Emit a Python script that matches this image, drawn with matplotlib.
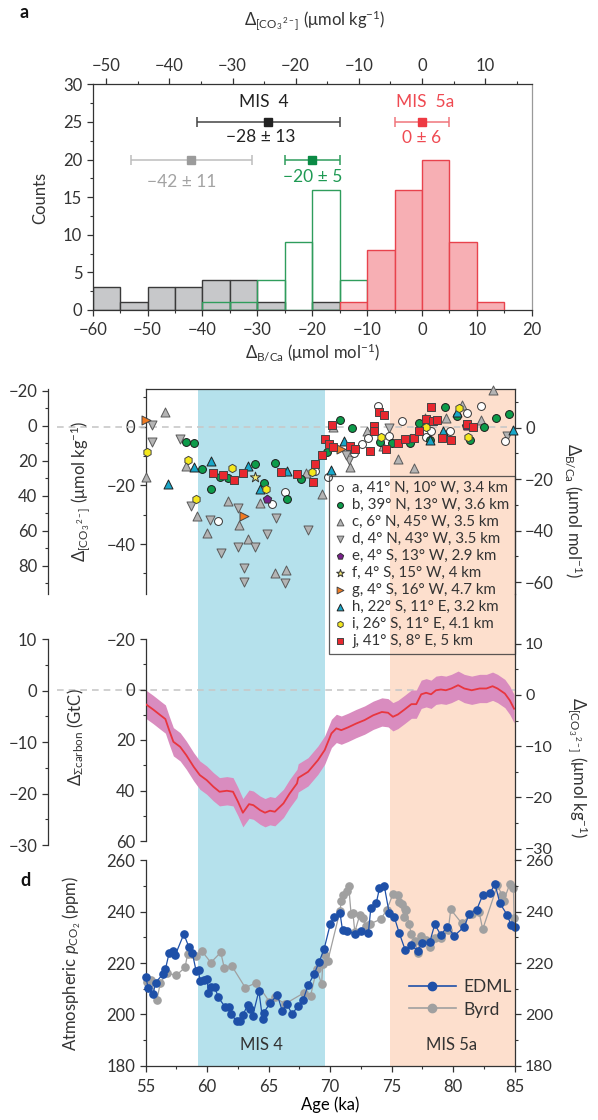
import matplotlib
matplotlib.use("Agg")
import matplotlib.pyplot as plt
from matplotlib.lines import Line2D
from matplotlib.ticker import MultipleLocator, FixedLocator

W, H = 598, 1120

# ---------------- panel a : histograms ----------------
bin_left = [-60, -55, -50, -45, -40, -35, -30, -25, -20, -15, -10, -5, 0, 5, 10]
gray_counts = [3, 1, 3, 3, 4, 4, 1, 0, 1, 0, 0, 0, 0, 0, 0]
green_counts = [0, 0, 0, 0, 1, 1, 4, 9, 16, 4, 0, 0, 0, 0, 0]
red_counts = [0, 0, 0, 0, 0, 0, 0, 0, 0, 1, 8, 16, 20, 9, 1]
co3_per_bca = 0.869  # top axis scale factor

mis_center = [-28, -42, -20, 0]
mis_count = [25, 20, 20, 25]
mis_halfwidth = [13, 11, 5, 5]
mis_labels = ["\u221228 \u00b1 13", "\u221242 \u00b1 11", "\u221220 \u00b1 5", "0 \u00b1 6"]

# ---------------- panel b : B/Ca records (age ka, delta B/Ca) ----------------
a_age = [60.9, 65.3, 66.3, 68.8, 69.8, 71.9, 72.6, 73.1, 73.9, 74.8, 75.8, 77.7, 77.8, 78.2, 79.7, 81.15, 82.3, 84.2]
a_val = [-36.2, -29.8, -24.9, -16.7, -19.3, -10, -6.3, -4.1, 8.4, -3.2, 2.7, -1.5, -3.5, -1.2, -1.5, 5.8, 8.5, -5.2]
b_age = [58.3, 58.9, 59.6, 60.3, 61.0, 61.7, 63.9, 64.6, 65.5, 66.5, 67.6, 69.7, 70.8, 71.8, 74.05, 75.0, 76.5,
         77.2, 78.1, 79.3, 80.3, 81.4, 82.5, 83.5, 84.5]
b_val = [-5.5, -6.1, -16, -23.8, -19.3, -19.7, -14.2, -21.6, -13.9, -27.8, -20.1, -9.3, 3.0, 0, -5.4, -5.8, -5.8,
         1.7, -4.8, 7.9, 4.5, -4.8, 0.1, 3.6, 5.2]
c_age = [55.0, 56.6, 58.3, 59.2, 59.96, 61.7, 62.6, 63.3, 64.3, 65.5, 66.4, 68.0, 69.3, 70.25, 71.6, 72.97, 74.3,
         75.5, 76.8, 77.7, 79.4, 80.7, 82.3, 83.2]
c_val = [-19, 6.0, -14.9, -34.2, -41, -28.3, -37.8, -43.4, -29.4, -56.3, -55.3, -17.5, -25.8, 0.4, -15.1, -1.5, -7.1,
         -12.0, -15.8, 3.6, 3.9, 8.8, 3.0, 14.6]
d_age = [55.5, 55.5, 57.8, 58.7, 60.2, 61.1, 62.5, 62.5, 63.0, 63.0, 63.9, 64.9, 65.6, 66.3, 68.2, 71.5, 71.3, 74.8, 84.35]
d_val = [1.0, -5.4, -4.4, -30.4, -35.9, -48.8, -31.3, -46.2, -54.6, -59.8, -46.2, -41.3, -35.2, -60.5, -39.7, -12.6,
         -10.6, -0.2, -3.1]
e_age = [64.9, 81.0]
e_val = [-27.7, 0.8]
f_age = [63.9]
f_val = [-19]
g_age = [55.0, 63.0, 70.9]
g_val = [3.0, -34.5, -8.3]
h_age = [56.8, 58.9, 60.3, 63.3, 64.3, 66.5, 70.1, 71.15, 78.1, 79.2, 80.3, 84.9]
h_val = [-22, -15.4, -12.8, -14.8, -23.8, -16.8, -16.5, -5.2, -4.8, -1.2, 6.2, -1]
i_age = [55.1, 58.4, 59.1, 62.0, 64.8, 68.5, 74.1, 76.6, 77.8, 80.5, 81.2]
i_val = [-9.3, -12.5, -27.7, -15.8, -23.8, -17.1, -3.5, -4.1, 0.4, 7.5, -3.5]
j_age = [60.5, 61.3, 62.2, 62.9, 66.0, 67.3, 68.6, 68.76, 69.3, 69.6, 69.93, 70.12, 70.25, 71.6, 72.0, 73.2, 73.56,
         73.59, 74.0, 74.4, 74.5, 75.5, 76.1, 76.8, 77.2, 77.8, 78.2, 78.33, 78.7, 79.1, 79.8, 81.1, 81.6]
j_val = [-17.7, -18.4, -20.3, -17.7, -17.1, -18, -21.3, -14.1, -10.6, -4.5, -6.3, 1.0, -7.4, -7.1, -8.4, -9.1, 0.7,
         -1.5, 6.2, 4.9, -8.4, -6.1, -4.5, -3.9, -1.2, 3.2, 7.9, 2.7, 3.0, -4.1, -4.8, 1.4, 0.1]
site_labels = ["a, 41\u00b0 N, 10\u00b0 W, 3.4 km", "b, 39\u00b0 N, 13\u00b0 W, 3.6 km",
               "c, 6\u00b0 N, 45\u00b0 W, 3.5 km", "d, 4\u00b0 N, 43\u00b0 W, 3.5 km",
               "e, 4\u00b0 S, 13\u00b0 W, 2.9 km", "f, 4\u00b0 S, 15\u00b0 W, 4 km",
               "g, 4\u00b0 S, 16\u00b0 W, 4.7 km", "h, 22\u00b0 S, 11\u00b0 E, 3.2 km",
               "i, 26\u00b0 S, 11\u00b0 E, 4.1 km", "j, 41\u00b0 S, 8\u00b0 E, 5 km"]

# ---------------- panel c : carbon inventory change (GtC) ----------------
carbon_age = [55.0, 55.6, 56.2, 56.6, 56.9, 57.25, 57.8, 58.3, 58.9, 59.4, 59.96, 60.5, 61.0, 61.6, 62.1, 62.5,
              62.9, 63.4, 63.75, 64.3, 64.7, 65.1, 65.5, 66.2, 66.7, 67.3, 67.4, 68.2, 69.0, 69.55, 70.1, 70.5,
              70.9, 71.45, 72.1, 72.8, 73.5, 74.2, 74.7, 75.1, 75.5, 76.05, 76.6, 77.0, 77.4, 77.8, 78.2, 78.6,
              79.0, 79.4, 79.85, 80.4, 80.9, 81.5, 82.15, 82.7, 83.2, 83.6, 84.2, 84.6, 84.95]
carbon_gtc = [5.8, 7.9, 10.2, 11.7, 16.0, 20.7, 22.7, 26.0, 30.6, 33.9, 35.9, 38.5, 40.5, 40.1, 40.5, 44.4,
              48.8, 45.4, 45.8, 47.8, 48.8, 48.0, 48.4, 45.1, 41.2, 37.2, 35.0, 32.6, 28.0, 24.0, 17.4, 15.4,
              16.1, 15.0, 13.5, 12.1, 10.2, 8.9, 9.2, 10.8, 9.9, 7.9, 5.8, 5.8, 1.9, 1.3, 1.9, 0.3,
              0.0, 0.3, -0.4, -1.7, -0.4, 0.3, -0.4, -0.4, -1.3, -0.4, 1.6, 4.3, 7.6]
carbon_err = 5.6

# ---------------- panel d : atmospheric CO2 ----------------
edml_age = [55.0, 55.2, 55.6, 55.8, 56.4, 56.6, 56.9, 57.2, 57.4, 58.1, 58.5, 58.8, 59.1, 59.3, 59.4, 59.7, 60.0,
            60.1, 60.3, 60.6, 60.9, 61.45, 61.8, 61.9, 62.4, 62.7, 62.9, 63.3, 63.5, 63.7, 64.2, 64.5, 64.6, 65.1,
            65.7, 66.1, 66.5, 66.9, 67.4, 67.8, 68.2, 68.7, 69.1, 69.5, 70.0, 70.3, 70.8, 71.0, 71.4, 72.0, 72.5,
            73.1, 73.3, 73.75, 74.0, 74.4, 74.8, 75.2, 75.6, 76.1, 76.6, 77.1, 77.5, 78.1, 78.5, 79.0, 79.5, 80.1,
            80.9, 81.3, 81.9, 82.4, 83.0, 83.4, 83.8, 84.4, 84.7, 85.0]
edml_co2 = [214.7, 210.4, 207.8, 212.4, 215.7, 217.6, 223.8, 224.7, 223.1, 231.3, 226.4, 223.8, 216.9, 217.3, 213.1,
            213.4, 213.8, 208.2, 210.5, 210.8, 206.6, 203.0, 203.0, 200.1, 197.5, 197.5, 199.8, 203.7, 202.2, 199.4,
            209.2, 198.3, 200.7, 204.3, 207.6, 201.4, 203.9, 200.1, 203.4, 205.6, 211.4, 215.7, 220.5, 225.4, 235.1,
            237.8, 239.4, 232.9, 232.6, 231.3, 232.5, 231.6, 241.3, 243.5, 249.1, 250.0, 239.4, 238.1, 231.9, 225.1,
            227.0, 224.8, 227.7, 228.3, 235.1, 230.9, 234.2, 230.7, 234.2, 239.1, 240.7, 246.5, 247.4, 250.8, 243.3,
            238.7, 234.8, 234.0]
byrd_age = [55.1, 55.4, 55.9, 56.2, 56.7, 57.5, 58.2, 58.4, 58.8, 59.1, 59.55, 60.3, 61.1, 61.4, 62.0, 63.1, 64.0,
            65.05, 65.5, 66.3, 67.9, 68.4, 68.9, 69.3, 69.4, 69.6, 69.8, 70.8, 70.9, 71.0, 71.4, 71.5, 71.7, 71.85,
            72.0, 72.4, 72.7, 72.9, 73.2, 74.1, 74.6, 75.1, 75.5, 75.6, 75.8, 76.0, 76.05, 76.2, 76.4, 76.6, 76.9,
            77.1, 77.4, 77.8, 78.1, 78.5, 79.0, 79.6, 79.8, 80.7, 81.5, 82.1, 82.4, 83.6, 83.96, 84.1, 84.6, 84.9,
            84.95]
byrd_co2 = [212.7, 213.4, 205.6, 212.4, 216.0, 215.3, 218.3, 223.4, 223.4, 222.8, 224.8, 220.2, 224.2, 217.9, 218.9,
            210.4, 212.4, 205.0, 206.9, 204.0, 208.5, 207.2, 217.6, 211.8, 219.6, 223.1, 220.8, 240.4, 244.3, 246.5,
            248.2, 250.2, 239.1, 239.4, 232.2, 238.7, 237.4, 234.5, 235.2, 237.1, 240.7, 246.9, 246.5, 243.9, 243.0,
            237.8, 240.9, 240.7, 235.2, 231.3, 228.7, 224.1, 230.6, 229.0, 226.4, 229.6, 229.6, 232.9, 240.9, 235.5,
            239.1, 240.0, 233.2, 250.4, 246.5, 244.3, 250.8, 249.1, 237.4]

mis4_span = (59.25, 69.55)
mis5a_span = (74.86, 85.0)

# ---------------- style ----------------
plt.rcParams["font.family"] = ["Lato", "DejaVu Sans"]
plt.rcParams["mathtext.fontset"] = "custom"
plt.rcParams["mathtext.rm"] = "Lato"
plt.rcParams["mathtext.it"] = "Lato:italic"
plt.rcParams["mathtext.bf"] = "Lato:bold"
plt.rcParams["font.size"] = 12
plt.rcParams["axes.linewidth"] = 0.9
plt.rcParams["axes.edgecolor"] = "#333333"
plt.rcParams["text.color"] = "#333333"
plt.rcParams["xtick.color"] = "#333333"
plt.rcParams["ytick.color"] = "#333333"
plt.rcParams["xtick.labelsize"] = 12
plt.rcParams["ytick.labelsize"] = 12

DARK = "#333333"
BLUE_SHADE = "#b5e1ec"
ORANGE_SHADE = "#fddfcd"
MU = "\u03bc"
CO3_LABEL = r"$\mathit{\Delta}_{[\mathrm{CO_3}^{\,2-}]}$ (" + MU + r"mol kg$^{-1}$)"
BCA_LABEL = r"$\mathit{\Delta}_{\mathrm{B/Ca}}$ (" + MU + r"mol mol$^{-1}$)"


def px_axes(fig, x0, y0, x1, y1):
    ax = fig.add_axes([x0 / W, 1 - y1 / H, (x1 - x0) / W, (y1 - y0) / H])
    ax.patch.set_visible(False)
    return ax


def keep_spines(ax, sides):
    for side, sp in ax.spines.items():
        sp.set_visible(side in sides)


def style_ticks(ax, axis="both"):
    ax.tick_params(axis=axis, which="major", direction="out", length=4.5, width=0.9, pad=3)
    ax.tick_params(axis=axis, which="minor", direction="out", length=2.5, width=0.8)


def yaxis_only(ax, side, ylim, major, minor):
    keep_spines(ax, [side])
    ax.set_xticks([])
    ax.set_ylim(*ylim)
    ax.yaxis.set_major_locator(FixedLocator(major))
    ax.yaxis.set_minor_locator(FixedLocator(minor))
    if side == "right":
        ax.yaxis.tick_right()
    style_ticks(ax, "y")


fig = plt.figure(figsize=(W / 100, H / 100), dpi=100)

# ======== panel a ========
ax_a = px_axes(fig, 92.7, 84.3, 531.7, 310)
gl = [x for x, c in zip(bin_left, gray_counts) if c > 0]
ax_a.bar(gl, [c for c in gray_counts if c > 0], width=5, align="edge",
         color="#c7c8ca", edgecolor="#3a3a3a", lw=1, zorder=2)
gnl = [x for x, c in zip(bin_left, green_counts) if c > 0]
ax_a.bar(gnl, [c for c in green_counts if c > 0], width=5, align="edge",
         facecolor="none", edgecolor="#2f9d5c", lw=1, zorder=3)
rl = [x for x, c in zip(bin_left, red_counts) if c > 0]
ax_a.bar(rl, [c for c in red_counts if c > 0], width=5, align="edge",
         color="#f7afb4", edgecolor="#e8434d", lw=1, zorder=4)

mis_color = ["#222222", "#9b9b9b", "#0b8a45", "#ee3a43"]
mis_bar = ["#444444", "#bdbdbd", "#2f9d5c", "#f0757c"]
mis_text = ["#222222", "#a3a3a3", "#1f9a54", "#ef4a52"]
for x, y, e, c, bc in zip(mis_center, mis_count, mis_halfwidth, mis_color, mis_bar):
    ax_a.errorbar(x, y, xerr=e, fmt="s", ms=6, color=c, ecolor=bc, elinewidth=1.1,
                  capsize=3.5, capthick=1.1, zorder=6)
label_xy = [(-29.4, 23.0), (-43.7, 17.05), (-20, 17.7), (0, 22.9)]
for (x, y), s, c in zip(label_xy, mis_labels, mis_text):
    ax_a.text(x, y, s, color=c, ha="center", va="center", fontsize=12.5)
ax_a.text(-28.8, 27.6, "MIS  4", color="#222222", ha="center", va="center", fontsize=12.5)
ax_a.text(0.6, 27.7, "MIS  5a", color="#ef4a52", ha="center", va="center", fontsize=12.5)

ax_a.set_xlim(-60, 20)
ax_a.set_ylim(0, 30)
ax_a.xaxis.set_major_locator(MultipleLocator(10))
ax_a.xaxis.set_minor_locator(MultipleLocator(5))
ax_a.yaxis.set_major_locator(MultipleLocator(5))
ax_a.yaxis.set_minor_locator(MultipleLocator(2.5))
ax_a.spines["top"].set_visible(False)
ax_a.spines["right"].set_color("#9a9a9a")
style_ticks(ax_a)
ax_a.tick_params(axis="x", which="major", pad=4)

ax_at = ax_a.twiny()
ax_at.patch.set_visible(False)
keep_spines(ax_at, ["top"])
ax_at.set_xlim(-60 * co3_per_bca, 20 * co3_per_bca)
ax_at.xaxis.set_major_locator(MultipleLocator(10))
ax_at.xaxis.set_minor_locator(MultipleLocator(5))
style_ticks(ax_at, "x")

fig.text(20 / W, 1 - 12 / H, "a", fontsize=13, fontweight="bold", color="#111111", va="center")
fig.text(315 / W, 1 - 20 / H, CO3_LABEL, ha="center", va="center", fontsize=12)
fig.text(312 / W, 1 - 352 / H, BCA_LABEL, ha="center", va="center", fontsize=12)
fig.text(40 / W, 1 - 198 / H, "Counts", rotation=90, ha="center", va="center", fontsize=12)

# ======== background shading for b-d ========
ax_bg = px_axes(fig, 145.7, 389, 514.7, 1065.7)
ax_bg.set_zorder(-5)
ax_bg.set_xlim(55, 85)
ax_bg.axvspan(*mis4_span, color=BLUE_SHADE, lw=0)
ax_bg.axvspan(*mis5a_span, color=ORANGE_SHADE, lw=0)
ax_bg.axis("off")

# ======== panel b ========
ax_b = px_axes(fig, 145.7, 389, 514.7, 594)
keep_spines(ax_b, ["left", "top"])
ax_b.set_xlim(55, 85)
ax_b.set_xticks([])
ax_b.set_ylim(-57.0, 12.85)
ax_b.yaxis.set_major_locator(FixedLocator([-40, -20, 0]))
ax_b.yaxis.set_minor_locator(FixedLocator([-50, -30, -10, 10]))
style_ticks(ax_b, "y")
ax_b.plot([-0.241, 1], [0, 0], transform=ax_b.get_yaxis_transform(), clip_on=False,
          color="#c8c8c8", lw=1.2, ls=(0, (4, 3)))

ax_bo = px_axes(fig, 47.7, 389, 60, 594)
yaxis_only(ax_bo, "left", (96.1, -21.1), [-20, 0, 20, 40, 60, 80], [-10, 10, 30, 50, 70, 90])

ax_br = px_axes(fig, 145.7, 389, 514.7, 594)
yaxis_only(ax_br, "right", (-64.6, 15.0), [-60, -40, -20, 0], [-50, -30, -10, 10])
ax_br.set_xlim(55, 85)

site_series = [(a_age, a_val), (b_age, b_val), (c_age, c_val), (d_age, d_val), (e_age, e_val),
               (f_age, f_val), (g_age, g_val), (h_age, h_val), (i_age, i_val), (j_age, j_val)]
site_marker = ["o", "o", "^", "v", "p", "*", ">", "^", "h", "s"]
site_face = ["white", "#0d9b4a", "#b4b4b4", "#b4b4b4", "#7a1f8c", "#f3e873", "#f07b22", "#19a7c9",
             "#f4e81c", "#e8282f"]
site_edge = ["#333333", "#1a1a1a", "#5a5a5a", "#5a5a5a", "#333333", "#333333", "#444444", "#222222",
             "#444444", "#444444"]
site_size = [32, 32, 42, 42, 40, 60, 42, 42, 36, 30]
site_z = [5, 5, 3, 3, 6, 6, 6, 5, 5, 7]
handles = []
for (xs, ys), m, fc, ec, s, z in zip(site_series, site_marker, site_face, site_edge, site_size, site_z):
    h = ax_br.scatter(xs, ys, marker=m, s=s, facecolor=fc, edgecolor=ec, linewidths=0.7, zorder=z,
                      clip_on=False)
    handles.append(h)
leg = ax_br.legend(handles, site_labels, loc="upper right", bbox_to_anchor=(514.7 / W, 1 - 476 / H),
                   bbox_transform=fig.transFigure, borderaxespad=0, fontsize=10.8, markerscale=0.75,
                   handlelength=0.8, handletextpad=0.4, labelspacing=0.2, borderpad=0.35,
                   fancybox=False, frameon=True, scatterpoints=1)
leg.get_frame().set_facecolor("none")
leg.get_frame().set_edgecolor(DARK)
leg.get_frame().set_linewidth(0.9)

fig.text(80 / W, 1 - 491 / H, CO3_LABEL, rotation=90, ha="center", va="center", fontsize=12)
fig.text(574 / W, 1 - 510 / H, BCA_LABEL, rotation=270, ha="center", va="center", fontsize=12)

# ======== panel c ========
ax_c = px_axes(fig, 145.7, 639, 514.7, 841)
keep_spines(ax_c, ["left"])
ax_c.set_xlim(55, 85)
ax_c.set_xticks([])
ax_c.set_ylim(60, -20)
ax_c.yaxis.set_major_locator(FixedLocator([-20, 0, 20, 40, 60]))
ax_c.yaxis.set_minor_locator(FixedLocator([-10, 10, 30, 50]))
style_ticks(ax_c, "y")
ax_c.plot([-0.241, 1], [0, 0], transform=ax_c.get_yaxis_transform(), clip_on=False,
          color="#c8c8c8", lw=1.2, ls=(0, (4, 3)), zorder=1)
ax_c.fill_between(carbon_age, [v - carbon_err for v in carbon_gtc], [v + carbon_err for v in carbon_gtc],
                  color="#d98cbf", lw=0, zorder=2)
ax_c.plot(carbon_age, carbon_gtc, color="#e8363f", lw=1.3, zorder=3)

ax_co = px_axes(fig, 47.7, 639.3, 60, 845)
yaxis_only(ax_co, "left", (-30, 10), [-30, -20, -10, 0, 10], [-25, -15, -5, 5])

ax_cr = px_axes(fig, 145.7, 594, 514.7, 860)
yaxis_only(ax_cr, "right", (-32.2, 19.7), [-30, -20, -10, 0, 10], [-25, -15, -5, 5])
# the -30 label sits right above the 260 of panel d, keep it a touch smaller
for lab in ax_cr.get_yticklabels():
    lab.set_fontsize(11.5)

fig.text(76 / W, 1 - 737 / H, r"$\mathit{\Delta}_{\Sigma\mathrm{carbon}}$ (GtC)",
         rotation=90, ha="center", va="center", fontsize=12)
fig.text(578 / W, 1 - 768 / H, CO3_LABEL, rotation=270, ha="center", va="center", fontsize=12)

# ======== panel d ========
ax_d = px_axes(fig, 145.7, 860.5, 514.7, 1065.7)
keep_spines(ax_d, ["left", "bottom"])
ax_d.set_xlim(55, 85)
ax_d.set_ylim(180, 260)
ax_d.xaxis.set_major_locator(MultipleLocator(5))
ax_d.xaxis.set_minor_locator(MultipleLocator(2.5))
ax_d.yaxis.set_major_locator(MultipleLocator(20))
ax_d.yaxis.set_minor_locator(MultipleLocator(10))
style_ticks(ax_d)
ax_d.tick_params(axis="x", which="major", pad=5)
ax_d.plot(byrd_age, byrd_co2, color="#a0a0a0", lw=0.9, marker="o", ms=5.2, mec="#a0a0a0", zorder=3,
          clip_on=False)
ax_d.plot(edml_age, edml_co2, color="#1e50a8", lw=0.9, marker="o", ms=5.2, mec="#1e50a8", zorder=4,
          clip_on=False)
ax_d.text(64.4, 188, "MIS 4", ha="center", va="center", fontsize=12)
ax_d.text(79.85, 188, "MIS 5a", ha="center", va="center", fontsize=12)
ax_d.set_xlabel("Age (ka)", fontsize=12, labelpad=1)

ax_dr = px_axes(fig, 145.7, 860.5, 514.7, 1065.7)
yaxis_only(ax_dr, "right", (180, 260), [180, 200, 220, 240, 260], [190, 210, 230, 250])
for lab in ax_dr.get_yticklabels():
    lab.set_fontsize(11.5)

leg_handles = [Line2D([], [], color="#1e50a8", lw=1.2, marker="o", ms=6),
               Line2D([], [], color="#a0a0a0", lw=1.2, marker="o", ms=6)]
ax_d.legend(leg_handles, ["EDML", "Byrd"], loc="center left", bbox_to_anchor=(409 / W, 1 - 998.5 / H),
            bbox_transform=fig.transFigure, frameon=False, fontsize=12.5, handlelength=2.7,
            handletextpad=0.45, labelspacing=0.35, borderpad=0, borderaxespad=0)

fig.text(20 / W, 1 - 880 / H, "d", fontsize=13, fontweight="bold", color="#111111", va="center")
fig.text(72 / W, 1 - 963 / H, r"Atmospheric $\mathit{p}_{\mathrm{CO_2}}$ (ppm)",
         rotation=90, ha="center", va="center", fontsize=12)

fig.savefig("out.png", dpi=100)
